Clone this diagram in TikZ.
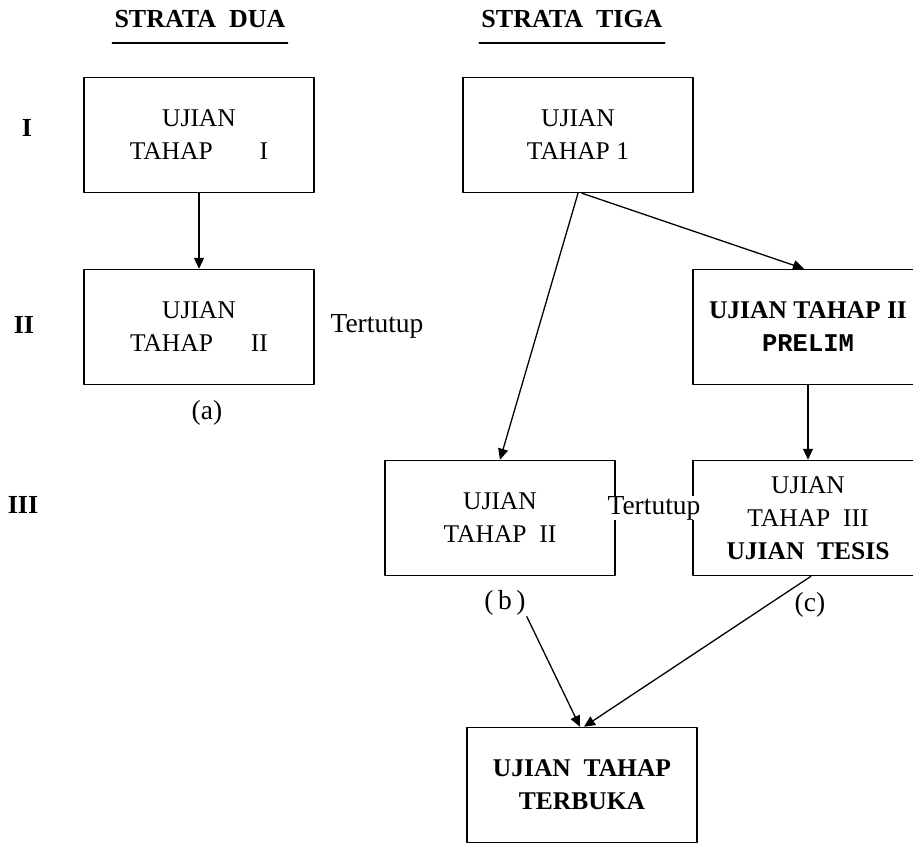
\documentclass[tikz,border=0pt]{standalone}
\usepackage{fontspec}
\setmainfont{Liberation Serif}
\setmonofont{Liberation Mono}
\usetikzlibrary{arrows.meta}

\begin{document}
\begin{tikzpicture}[x=1pt, y=-1pt, line cap=round, line join=round,
    >={Triangle[length=11pt,width=10pt]},
    font=\fontsize{25.5}{33}\selectfont,
    box/.style={draw, line width=1.5pt, minimum width=230pt, minimum height=115pt, align=center, inner sep=0pt},
    hdr/.style={font=\fontsize{26}{30}\selectfont\bfseries, inner sep=2pt},
    lvl/.style={font=\fontsize{26}{30}\selectfont\bfseries, inner sep=0pt},
    lbl/.style={font=\fontsize{27.5}{30}\selectfont, inner sep=1pt},
    link/.style={->, line width=1.3pt}]
    % Window (pixel units, y downwards)
    \useasboundingbox (0,0) rectangle (913,843);

    % Column headers
    \node[hdr] (hdrDua) at (200,19) {STRATA\ \ DUA};
    \node[hdr] (hdrTiga) at (572,19) {STRATA\ \ TIGA};
    \draw[line width=1.5pt] ([yshift=-13pt]hdrDua.south west) -- ([yshift=-13pt]hdrDua.south east);
    \draw[line width=1.5pt] ([yshift=-13pt]hdrTiga.south west) -- ([yshift=-13pt]hdrTiga.south east);

    % Levels
    \node[lvl] (lvlI) at (27,128) {I};
    \node[lvl] (lvlII) at (24,325) {II};
    \node[lvl] (lvlIII) at (23,505) {III};

    % Strata dua
    \node[box] (a1) at (199,135) {UJIAN\\TAHAP\hspace{47pt}I};
    \node[box] (a2) at (199,327) {UJIAN\\TAHAP\hspace{38pt}II};
    \node[lbl] (lblA) at (207,413) {(a)};
    \node[lbl, anchor=base] (tutupA) at (377,332) {Tertutup};

    % Strata tiga
    \node[box] (b1) at (578,135) {UJIAN\\TAHAP 1};
    \node[box] (prelim) at (808,327) {\textbf{UJIAN TAHAP II}\\\texttt{\textbf{PRELIM}}};
    \node[box] (b2) at (500,518) {UJIAN\\TAHAP\ \ II};
    \node[box] (b3) at (808,518) {UJIAN\\TAHAP\ \ III\\\textbf{UJIAN\ \ TESIS}};
    \node[lbl] (lblB) at (505,603) {(\,b\,)};
    \node[lbl] (lblC) at (810,605) {(c)};
    \node[lbl, anchor=base, fill=white, inner sep=0pt] (tutupB) at (654,514) {Tertutup};

    % Final exam
    \node[box] (terbuka) at (582,785) {\textbf{UJIAN\ \ TAHAP}\\\textbf{TERBUKA}};

    % Connectors
    \draw[link] (a1) -- (a2);
    \draw[link] (b1.south) -- (b2.north);
    \draw[link] ([xshift=4pt]b1.south) -- ([xshift=-4pt]prelim.north);
    \draw[link] (prelim) -- (b3);
    \draw[link] (lblB.south east) -- ([xshift=-2pt]terbuka.north);
    \draw[link] ([xshift=3pt]b3.south) -- ([xshift=2pt]terbuka.north);
\end{tikzpicture}
\end{document}
